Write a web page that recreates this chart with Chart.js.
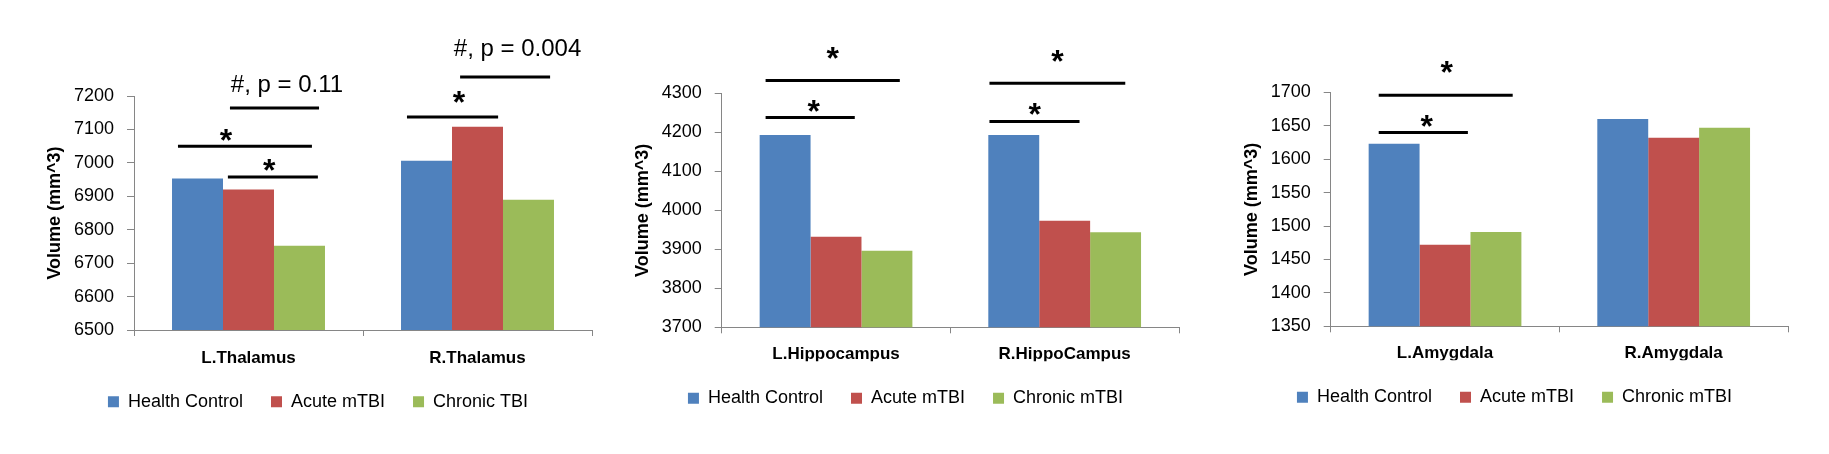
<!DOCTYPE html>
<html>
<head>
<meta charset="utf-8">
<script src="https://cdn.jsdelivr.net/npm/chart.js@4"></script>
<style>
  body { margin: 0; background: #fff; }
  .box { position: absolute; top: 0; height: 454px; }
</style>
</head>
<body>
<div class="box" style="left:0;width:600px"><canvas id="thalamus"></canvas></div>
<div class="box" style="left:600px;width:600px"><canvas id="hippo"></canvas></div>
<div class="box" style="left:1200px;width:629px"><canvas id="amyg"></canvas></div>
<script>
// values
const thalamusLabels = ['L.Thalamus', 'R.Thalamus'];
const thalamusHealth = [6953, 7006];
const thalamusAcute = [6920, 7108];
const thalamusChronic = [6752, 6890];
const thalamusTicks = [6500, 7200, 100];

const hippoLabels = ['L.Hippocampus', 'R.HippoCampus'];
const hippoHealth = [4193, 4193];
const hippoAcute = [3932, 3973];
const hippoChronic = [3896, 3944];
const hippoTicks = [3700, 4300, 100];

const amygLabels = ['L.Amygdala', 'R.Amygdala'];
const amygHealth = [1623, 1660];
const amygAcute = [1472, 1632];
const amygChronic = [1491, 1647];
const amygTicks = [1350, 1700, 50];

const seriesNames1 = ['Health Control', 'Acute mTBI', 'Chronic TBI'];
const seriesNames2 = ['Health Control', 'Acute mTBI', 'Chronic mTBI'];

// significance brackets: [category, from, to, value] (from/to in category widths from centre)
const thalamusBars = [[0, -0.308, 0.277, 7050], [0, -0.09, 0.303, 6958], [0, -0.081, 0.308, 7164],
                      [1, -0.308, 0.09, 7137], [1, -0.076, 0.317, 7257]];
const thalamusMarks = [[0, -0.098, 7092, '*'], [0, 0.09, 7000, '*'], [0, 0.168, 7239, '#, p = 0.11'],
                       [1, -0.081, 7203, '*'], [1, 0.175, 7344, '#, p = 0.004']];
const hippoBars = [[0, -0.308, 0.279, 4333], [0, -0.308, 0.082, 4238],
                   [1, -0.329, 0.265, 4326], [1, -0.329, 0.065, 4228]];
const hippoMarks = [[0, -0.014, 4411, '*'], [0, -0.097, 4275, '*'],
                    [1, -0.031, 4403, '*'], [1, -0.131, 4265, '*']];
const amygBars = [[0, -0.29, 0.296, 1695.5], [0, -0.29, 0.1, 1640]];
const amygMarks = [[0, 0.007, 1741, '*'], [0, -0.08, 1661.5, '*']];

const colors = ['#4F81BD', '#C0504D', '#9BBB59'];
const axisGrey = '#868686';
Chart.defaults.font.family = '"Liberation Sans", Arial, sans-serif';
Chart.defaults.color = '#000';

function sigPlugin(bars, marks) {
  return {
    id: 'sig',
    afterDatasetsDraw(chart) {
      const {ctx, scales: {x, y}} = chart;
      const cw = x.getPixelForValue(1) - x.getPixelForValue(0);
      const px = (c, f) => x.getPixelForValue(c) + f * cw;
      ctx.save();
      ctx.strokeStyle = '#000';
      ctx.lineWidth = 3;
      bars.forEach(b => {
        const yy = y.getPixelForValue(b[3]);
        ctx.beginPath();
        ctx.moveTo(px(b[0], b[1]), yy);
        ctx.lineTo(px(b[0], b[2]), yy);
        ctx.stroke();
      });
      ctx.fillStyle = '#000';
      ctx.textAlign = 'center';
      ctx.textBaseline = 'alphabetic';
      marks.forEach(m => {
        const yy = y.getPixelForValue(m[2]);
        if (m[3] === '*') {
          ctx.font = 'bold 32px "Liberation Sans"';
          ctx.fillText('*', px(m[0], m[1]), yy + 18.5);
        } else {
          ctx.font = '24px "Liberation Sans"';
          ctx.fillText(m[3], px(m[0], m[1]), yy + 8.6);
        }
      });
      ctx.restore();
    }
  };
}

function makeChart(id, labels, health, acute, chronic, names, ticks, bars, marks, lay) {
  new Chart(document.getElementById(id), {
    type: 'bar',
    data: {
      labels: labels,
      datasets: [health, acute, chronic].map((d, i) => ({
        label: names[i],
        data: d,
        backgroundColor: colors[i],
        barPercentage: 1,
        categoryPercentage: 0.668
      }))
    },
    options: {
      responsive: true,
      maintainAspectRatio: false,
      animation: false,
      layout: { padding: lay.pad },
      plugins: {
        tooltip: { enabled: false },
        legend: {
          position: 'bottom',
          labels: { boxWidth: 11, boxHeight: 11, padding: 28, font: { size: 18 } }
        }
      },
      scales: {
        x: {
          grid: { drawOnChartArea: false, tickLength: 6, color: axisGrey },
          border: { color: axisGrey },
          ticks: { font: { size: 17, weight: 'bold' }, padding: lay.xPad },
          afterFit: s => { s.height = lay.xHeight; }
        },
        y: {
          min: ticks[0],
          max: ticks[1],
          grid: { drawOnChartArea: false, tickLength: 7, color: axisGrey },
          border: { color: axisGrey },
          ticks: { stepSize: ticks[2], font: { size: 18 }, padding: 13, callback: v => String(v) },
          title: {
            display: true,
            text: 'Volume (mm^3)',
            font: { size: 18, weight: 'bold' },
            padding: { top: lay.titlePad, bottom: 0 }
          },
          afterFit: s => { s.width = lay.yWidth; }
        }
      }
    },
    plugins: [sigPlugin(bars, marks)]
  });
}

makeChart('thalamus', thalamusLabels, thalamusHealth, thalamusAcute, thalamusChronic, seriesNames1,
  thalamusTicks, thalamusBars, thalamusMarks,
  { pad: { left: 44, right: 8, top: 96, bottom: 33.3 }, yWidth: 90, titlePad: 0, xHeight: 34.7, xPad: 12 });
makeChart('hippo', hippoLabels, hippoHealth, hippoAcute, hippoChronic, seriesNames2,
  hippoTicks, hippoBars, hippoMarks,
  { pad: { left: 32, right: 21, top: 93.3, bottom: 36.7 }, yWidth: 89.7, titlePad: 0, xHeight: 34, xPad: 11 });
makeChart('amyg', amygLabels, amygHealth, amygAcute, amygChronic, seriesNames2,
  amygTicks, amygBars, amygMarks,
  { pad: { left: 41, right: 41, top: 92.3, bottom: 37.7 }, yWidth: 89.7, titlePad: 0, xHeight: 34, xPad: 11 });
</script>
</body>
</html>
